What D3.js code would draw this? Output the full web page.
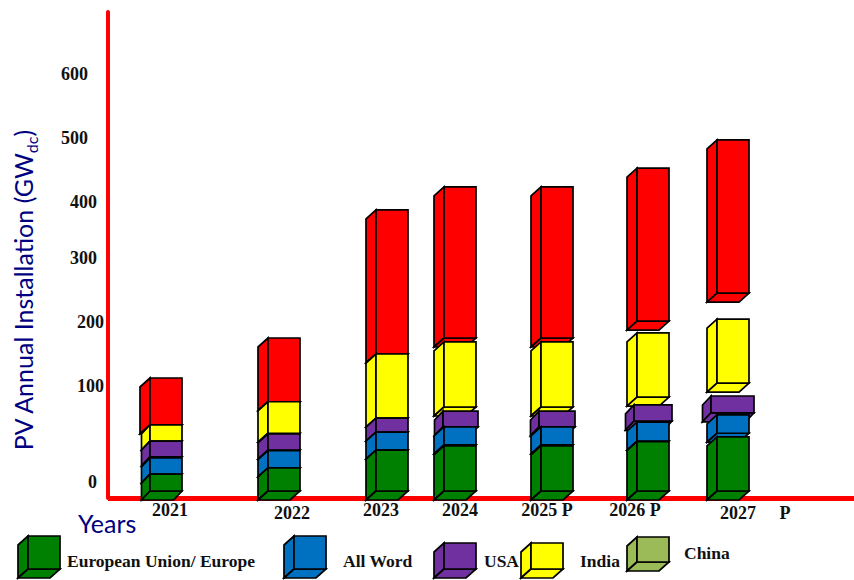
<!DOCTYPE html>
<html>
<head>
<meta charset="utf-8">
<script src="https://cdn.jsdelivr.net/npm/d3@7"></script>
<style>
  html, body { margin: 0; padding: 0; background: #fff; }
  svg { display: block; }
  .num { font-family: "Liberation Serif", serif; font-weight: bold; fill: #111; }
  .title { font-family: "Lato", sans-serif; fill: #000080; }
</style>
</head>
<body>
<svg id="chart" width="854" height="580"></svg>
<script>
// Categories and tick labels
const years = ["2021", "2022", "2023", "2024", "2025", "2026", "2027"];
const yearLabels = ["2021", "2022", "2023", "2024", "2025 P", "2026 P", "2027"];
const tickValues = [0, 100, 200, 300, 400, 500, 600];

// Each stack segment as [lower, upper] in GW
const europe = [[0, 16], [0, 22], [0, 39], [0, 43], [0, 43], [0, 47], [0, 51.5]];
const allWorld = [[16, 31.5], [22, 38.5], [39, 56], [44, 61], [44, 61], [47.5, 65.5], [55, 72.5]];
const usa = [[32.5, 47.5], [39, 54.5], [56, 69.5], [61, 76], [61, 76], [66.5, 82], [74.5, 90.5]];
const india = [[47.5, 63], [55, 85], [69.5, 150], [80, 169], [80, 169], [89.5, 183], [104.5, 204.5]];
const china = [[63, 112.5], [85, 175], [150, 386], [175, 423.5], [175, 423.5], [201.5, 453], [245, 497]];

// Top of the stack first: each lower box paints over the underside of the one above it
const series = [
  { name: "China", color: "#ff0000", spans: china },
  { name: "India", color: "#ffff00", spans: india },
  { name: "USA", color: "#7030a0", spans: usa },
  { name: "All Word", color: "#0070c0", spans: allWorld },
  { name: "European Union/ Europe", color: "#008000", spans: europe }
];

const svg = d3.select("#chart");

// The value axis is stretched below 100 GW
const y = d3.scaleLinear().domain(tickValues).range([491, 386, 322, 258, 202, 138, 74]);
const faceLeft = d3.scaleOrdinal().domain(years).range([150, 268, 376, 444, 541, 637, 717]);
const labelX = d3.scaleOrdinal().domain(yearLabels).range([170, 292, 381, 460, 547, 635, 738]);

const faceWidth = 32;
const depthX = 10, depthY = 9;
const usaOverhangLeft = [0, 0, 0, 1, 2, 3, 6];
const usaOverhangRight = [0, 0, 0, 2, 2, 3, 5];

// A box seen from below: large face, left side, underside
function drawBox(g, x0, x1, yTop, yBottom, fill, dx = depthX, dy = depthY) {
  const outline = d3.line();
  const faces = [
    [[x0, yTop], [x0 - dx, yTop + dy], [x0 - dx, yBottom + dy], [x0, yBottom]],
    [[x0, yBottom], [x0 - dx, yBottom + dy], [x1 - dx, yBottom + dy], [x1, yBottom]],
    [[x0, yTop], [x1, yTop], [x1, yBottom], [x0, yBottom]]
  ];
  g.selectAll(null).data(faces).join("path")
    .attr("d", d => outline(d) + "Z")
    .attr("fill", fill)
    .attr("stroke", "#000")
    .attr("stroke-width", 1.7)
    .attr("stroke-linejoin", "miter");
}

// Axis lines
svg.append("line").attr("x1", 108).attr("x2", 854).attr("y1", 498.5).attr("y2", 498.5)
  .attr("stroke", "#ff0000").attr("stroke-width", 5);
svg.append("line").attr("x1", 108).attr("x2", 108).attr("y1", 12).attr("y2", 498)
  .attr("stroke", "#ff0000").attr("stroke-width", 4).attr("stroke-linecap", "round");

// Stacked boxes
const bars = svg.append("g");
series.forEach(s => {
  years.forEach((yr, i) => {
    const left = faceLeft(yr);
    const wide = s.name === "USA";
    const x0 = left - (wide ? usaOverhangLeft[i] : 0);
    const x1 = left + faceWidth + (wide ? usaOverhangRight[i] : 0);
    const dx = wide && usaOverhangLeft[i] ? 8.5 : (yr === "2021" && s.name !== "China" ? 8.5 : depthX);
    drawBox(bars.append("g"), x0, x1, y(s.spans[i][1]), y(s.spans[i][0]), s.color, dx);
  });
});

// Value axis labels, set at their own offsets from the axis line
const tickRight = { 0: 97, 100: 104, 200: 104, 300: 97, 400: 97, 500: 88, 600: 88 };
const tickMid = { 0: 482, 100: 386, 200: 322, 300: 258, 400: 202, 500: 138, 600: 74 };
const yAxis = svg.append("g").call(d3.axisLeft(y).tickValues(tickValues).tickSize(0));
yAxis.select(".domain").remove();
yAxis.selectAll(".tick").attr("transform", d => `translate(${tickRight[d]},${tickMid[d]})`);
yAxis.selectAll("text").attr("class", "num").attr("x", 0).attr("dy", "0.32em")
  .attr("text-anchor", "end").style("font-size", "18px");

// Year labels
const labelBaseline = [516, 519, 516, 516, 516, 516, 519];
const xAxis = svg.append("g").call(d3.axisBottom(labelX).tickSize(0));
xAxis.select(".domain").remove();
xAxis.selectAll(".tick").attr("transform", (d, i) => `translate(${labelX(d)},${labelBaseline[i]})`);
xAxis.selectAll("text").attr("class", "num").attr("y", 0).attr("dy", 0)
  .attr("text-anchor", "middle").style("font-size", "18px");
svg.append("text").attr("class", "num").attr("x", 785).attr("y", 519)
  .attr("text-anchor", "middle").style("font-size", "18px").text("P");

// Axis titles
const yTitle = svg.append("text").attr("class", "title")
  .attr("transform", "translate(33,290) rotate(-90)")
  .attr("text-anchor", "middle").style("font-size", "25px");
yTitle.append("tspan").text("PV Annual Installation (GW");
yTitle.append("tspan").attr("dy", 5).style("font-size", "16px").text("dc");
yTitle.append("tspan").attr("dy", -5).text(")");
svg.append("text").attr("class", "title").attr("x", 78).attr("y", 533)
  .style("font-size", "25px").text("Years");

// Legend
const legendNames = ["European Union/ Europe", "All Word", "USA", "India", "China"];
const legendColors = ["#008000", "#0070c0", "#7030a0", "#ffff00", "#9bbb59"];
const swatchLeft = [28, 294, 444, 531, 637];
const swatchTop = [536, 536, 543, 543, 537];
const swatchBottom = [569, 569, 569, 569, 562];
const legendTextX = [67, 343, 484, 580, 684];
const legendTextY = [567, 567, 567, 567, 559];

const legend = svg.append("g");
legendNames.forEach((name, i) => {
  drawBox(legend.append("g"), swatchLeft[i], swatchLeft[i] + 32, swatchTop[i], swatchBottom[i], legendColors[i]);
  legend.append("text").attr("class", "num")
    .attr("x", legendTextX[i]).attr("y", legendTextY[i])
    .style("font-size", "17.5px").text(name);
});
</script>
</body>
</html>
